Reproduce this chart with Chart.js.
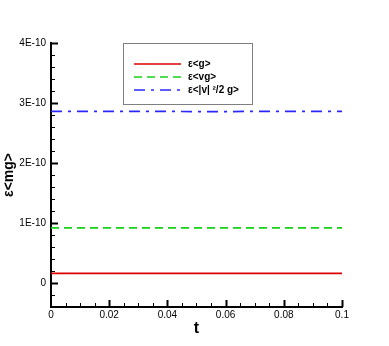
<!DOCTYPE html>
<html>
<head>
<meta charset="utf-8">
<script src="https://cdn.jsdelivr.net/npm/chart.js@4/dist/chart.umd.min.js"></script>
<style>
  body { margin: 0; background: #fff; }
  #wrap { width: 389px; height: 346px; }
</style>
</head>
<body>
<div id="wrap"><canvas id="myChart" width="389" height="346"></canvas></div>
<script>
'use strict';
// data
let tValues = [0, 0.01, 0.02, 0.03, 0.04, 0.05, 0.06, 0.07, 0.08, 0.09, 0.1];
let gValues = [1.6e-11, 1.6e-11, 1.6e-11, 1.6e-11, 1.6e-11, 1.6e-11, 1.6e-11, 1.6e-11, 1.6e-11, 1.6e-11, 1.6e-11];
let vgValues = [9.2e-11, 9.2e-11, 9.2e-11, 9.2e-11, 9.2e-11, 9.2e-11, 9.2e-11, 9.2e-11, 9.2e-11, 9.2e-11, 9.2e-11];
let v2gValues = [2.86e-10, 2.86e-10, 2.862e-10, 2.862e-10, 2.86e-10, 2.857e-10, 2.857e-10, 2.86e-10, 2.86e-10, 2.86e-10, 2.86e-10];
let seriesNames = ['\u03b5<g>', '\u03b5<vg>', '\u03b5<|v| \u00b2/2 g>'];
let xTicks = [0, 0.02, 0.04, 0.06, 0.08, 0.1];
let xTickLabels = ['0', '0.02', '0.04', '0.06', '0.08', '0.1'];
let yTicks = [0, 1e-10, 2e-10, 3e-10, 4e-10];
let yTickLabels = ['0', '1E-10', '2E-10', '3E-10', '4E-10'];

function pts(ys) {
  let out = [];
  for (let i = 0; i < tValues.length; i++) {
    out.push({ x: tValues[i], y: ys[i] });
  }
  return out;
}

// inward major/minor ticks like the original plot
let tickPlugin = {
  id: 'inTicks',
  afterDraw(chart) {
    let ctx = chart.ctx;
    let xs = chart.scales.x;
    let ys = chart.scales.y;
    let left = chart.chartArea.left;
    let bottom = chart.chartArea.bottom;
    ctx.save();
    ctx.strokeStyle = '#000';
    // y ticks
    for (let v = -2e-11; v <= 4.0001e-10; v += 2e-11) {
      let major = Math.abs(v / 1e-10 - Math.round(v / 1e-10)) < 1e-6;
      let py = Math.round(ys.getPixelForValue(v)) + 0.5;
      ctx.lineWidth = major ? 2 : 1;
      ctx.beginPath();
      ctx.moveTo(left, py);
      ctx.lineTo(left + (major ? 7 : 4), py);
      ctx.stroke();
    }
    // x ticks
    for (let v = 0.005; v <= 0.1001; v += 0.005) {
      let major = Math.abs(v / 0.02 - Math.round(v / 0.02)) < 1e-6;
      let px = Math.round(xs.getPixelForValue(v)) + 0.5;
      ctx.lineWidth = major ? 2 : 1;
      ctx.beginPath();
      ctx.moveTo(px, bottom);
      ctx.lineTo(px, bottom - (major ? 7 : 4));
      ctx.stroke();
    }
    ctx.restore();
  }
};

// boxed legend in the upper middle
let legendPlugin = {
  id: 'boxLegend',
  afterDraw(chart) {
    let ctx = chart.ctx;
    ctx.save();
    ctx.strokeStyle = '#7f7f7f';
    ctx.lineWidth = 1;
    ctx.strokeRect(123.5, 43.5, 129, 61);
    let rows = [64, 77, 90];
    chart.data.datasets.forEach(function (ds, i) {
      ctx.strokeStyle = ds.borderColor;
      ctx.lineWidth = ds.borderWidth;
      ctx.setLineDash(ds.borderDash || []);
      ctx.beginPath();
      ctx.moveTo(134, rows[i]);
      ctx.lineTo(181, rows[i]);
      ctx.stroke();
      ctx.setLineDash([]);
      ctx.fillStyle = '#000';
      ctx.font = 'bold 10px "Liberation Sans", Arial, sans-serif';
      ctx.textBaseline = 'middle';
      ctx.fillText(ds.label, 188, rows[i]);
    });
    ctx.restore();
  }
};

let ctx = document.getElementById('myChart').getContext('2d');
let myChart = new Chart(ctx, {
  type: 'line',
  data: {
    datasets: [{
      label: seriesNames[0],
      data: pts(gValues),
      borderColor: 'rgb(220, 0, 0)',
      borderWidth: 1.7,
      pointRadius: 0
    }, {
      label: seriesNames[1],
      data: pts(vgValues),
      borderColor: 'rgb(20, 210, 20)',
      borderWidth: 1.7,
      borderDash: [8, 5],
      pointRadius: 0
    }, {
      label: seriesNames[2],
      data: pts(v2gValues),
      borderColor: 'rgb(40, 40, 255)',
      borderWidth: 1.7,
      borderDash: [11, 6, 3, 6],
      pointRadius: 0
    }]
  },
  options: {
    responsive: false,
    animation: false,
    layout: { padding: { top: 43, right: 47, left: 0, bottom: 0 } },
    plugins: { legend: { display: false }, tooltip: { enabled: false } },
    scales: {
      x: {
        type: 'linear',
        min: 0,
        max: 0.1,
        afterFit: function (scale) { scale.height = 39; },
        afterBuildTicks: function (scale) {
          scale.ticks = xTicks.map(function (v) { return { value: v }; });
        },
        ticks: {
          padding: 2,
          maxRotation: 0,
          color: '#000',
          font: { family: '"Liberation Sans", Arial', size: 10 },
          callback: function (v, i) { return xTickLabels[i]; }
        },
        grid: { drawOnChartArea: false, drawTicks: false },
        border: { display: true, color: '#000', width: 2 },
        title: {
          display: true,
          text: 't',
          color: '#000',
          padding: { top: 0, bottom: 8 },
          font: { family: '"Liberation Sans", Arial', size: 16, weight: 'bold' }
        }
      },
      y: {
        min: -4e-11,
        max: 4e-10,
        afterFit: function (scale) { scale.width = 51; },
        afterBuildTicks: function (scale) {
          scale.ticks = yTicks.map(function (v) { return { value: v }; });
        },
        ticks: {
          padding: 5,
          color: '#000',
          font: { family: '"Liberation Sans", Arial', size: 10 },
          callback: function (v, i) { return yTickLabels[i]; }
        },
        grid: { drawOnChartArea: false, drawTicks: false },
        border: { display: true, color: '#000', width: 2 },
        title: {
          display: true,
          text: '\u03b5<mg>',
          color: '#000',
          padding: { top: 1, bottom: 0 },
          font: { family: '"Liberation Sans", Arial', size: 14, weight: 'bold' }
        }
      }
    }
  },
  plugins: [tickPlugin, legendPlugin]
});
</script>
</body>
</html>
